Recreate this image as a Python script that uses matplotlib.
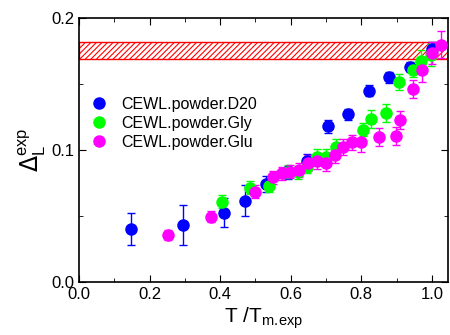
import numpy as np
import matplotlib.pyplot as plt
from matplotlib.ticker import MultipleLocator
from matplotlib.lines import Line2D

plt.rcParams['font.family'] = ['Liberation Sans', 'DejaVu Sans']
plt.rcParams['hatch.linewidth'] = 0.8

# CEWL.powder.D20
x_d20 = [0.147, 0.294, 0.410, 0.470, 0.529, 0.593, 0.645, 0.705, 0.763, 0.822, 0.880, 0.938, 1.000]
y_d20 = [0.0404, 0.0434, 0.0527, 0.0618, 0.0747, 0.0833, 0.0920, 0.1180, 0.1270, 0.1450, 0.1550, 0.1630, 0.1765]
e_d20 = [0.012, 0.015, 0.011, 0.012, 0.006, 0.005, 0.005, 0.005, 0.004, 0.004, 0.004, 0.004, 0.005]

# CEWL.powder.Gly
x_gly = [0.406, 0.484, 0.538, 0.593, 0.621, 0.647, 0.675, 0.700, 0.728, 0.804, 0.828, 0.869, 0.908, 0.946, 0.969, 0.998]
y_gly = [0.0610, 0.0717, 0.0732, 0.0838, 0.0833, 0.0876, 0.0947, 0.0950, 0.1027, 0.1154, 0.1235, 0.1280, 0.1515, 0.1610, 0.1676, 0.1720]
e_gly = [0.005, 0.005, 0.005, 0.005, 0.005, 0.005, 0.006, 0.006, 0.006, 0.005, 0.007, 0.007, 0.006, 0.006, 0.008, 0.008]

# CEWL.powder.Glu
x_glu = [0.251, 0.374, 0.499, 0.549, 0.574, 0.598, 0.623, 0.650, 0.675, 0.699, 0.726, 0.749, 0.773, 0.798, 0.849, 0.898, 0.910, 0.948, 0.973, 1.000, 1.025]
y_glu = [0.0358, 0.0497, 0.0687, 0.0795, 0.0826, 0.0838, 0.0850, 0.0906, 0.0921, 0.0906, 0.0964, 0.1023, 0.1058, 0.1065, 0.1098, 0.1108, 0.1230, 0.1464, 0.1608, 0.1735, 0.1798]
e_glu = [0.004, 0.004, 0.005, 0.005, 0.005, 0.005, 0.005, 0.006, 0.006, 0.006, 0.006, 0.006, 0.006, 0.008, 0.007, 0.007, 0.007, 0.007, 0.009, 0.008, 0.010]

band_lo, band_hi = 0.169, 0.182

fig = plt.figure(figsize=(4.5, 3.35), dpi=100)
ax = fig.add_axes([79/450, 1 - 282.3/335, (447.7 - 79)/450, (282.3 - 18)/335])

ax.axhspan(band_lo, band_hi, facecolor='white', edgecolor='red', hatch='//////', lw=1.0, zorder=1)

series = [
    (x_d20, y_d20, e_d20, '#0000ff', 'CEWL.powder.D20'),
    (x_gly, y_gly, e_gly, '#00ff00', 'CEWL.powder.Gly'),
    (x_glu, y_glu, e_glu, '#ff00ff', 'CEWL.powder.Glu'),
]
handles = []
for xs, ys, es, c, lab in series:
    ax.errorbar(xs, ys, yerr=es, fmt='o', color=c, ms=8, mec=c,
                elinewidth=1.0, capsize=3, capthick=1.0, zorder=3)
    handles.append(Line2D([], [], ls='none', marker='o', ms=8, color=c, label=lab))

ax.set_xlim(0, 1.045)
ax.set_ylim(0, 0.2)
ax.xaxis.set_major_locator(MultipleLocator(0.2))
ax.xaxis.set_minor_locator(MultipleLocator(0.1))
ax.yaxis.set_major_locator(MultipleLocator(0.1))
ax.yaxis.set_minor_locator(MultipleLocator(0.05))
ax.tick_params(which='both', direction='in', top=True, right=True, labelsize=12)
ax.tick_params(which='major', length=5)
ax.tick_params(which='minor', length=3)
ax.xaxis.set_major_formatter(plt.FuncFormatter(lambda v, p: f"{v:.1f}"))
ax.yaxis.set_major_formatter(plt.FuncFormatter(lambda v, p: f"{v:.1f}"))
for s in ax.spines.values():
    s.set_linewidth(1.2)

ax.set_xlabel(r'T /T$_{\mathregular{m.\!exp}}$', fontsize=15, labelpad=2)
ax.set_ylabel(r'$\Delta_{\mathregular{L}}^{\mathregular{exp}}$', fontsize=17, labelpad=2)

ax.legend(handles=handles, loc='upper left', bbox_to_anchor=(-0.016, 0.757), frameon=False,
          fontsize=11.5, handletextpad=0.6, labelspacing=0.25, handlelength=1.5)

fig.savefig('out.png', dpi=100)
